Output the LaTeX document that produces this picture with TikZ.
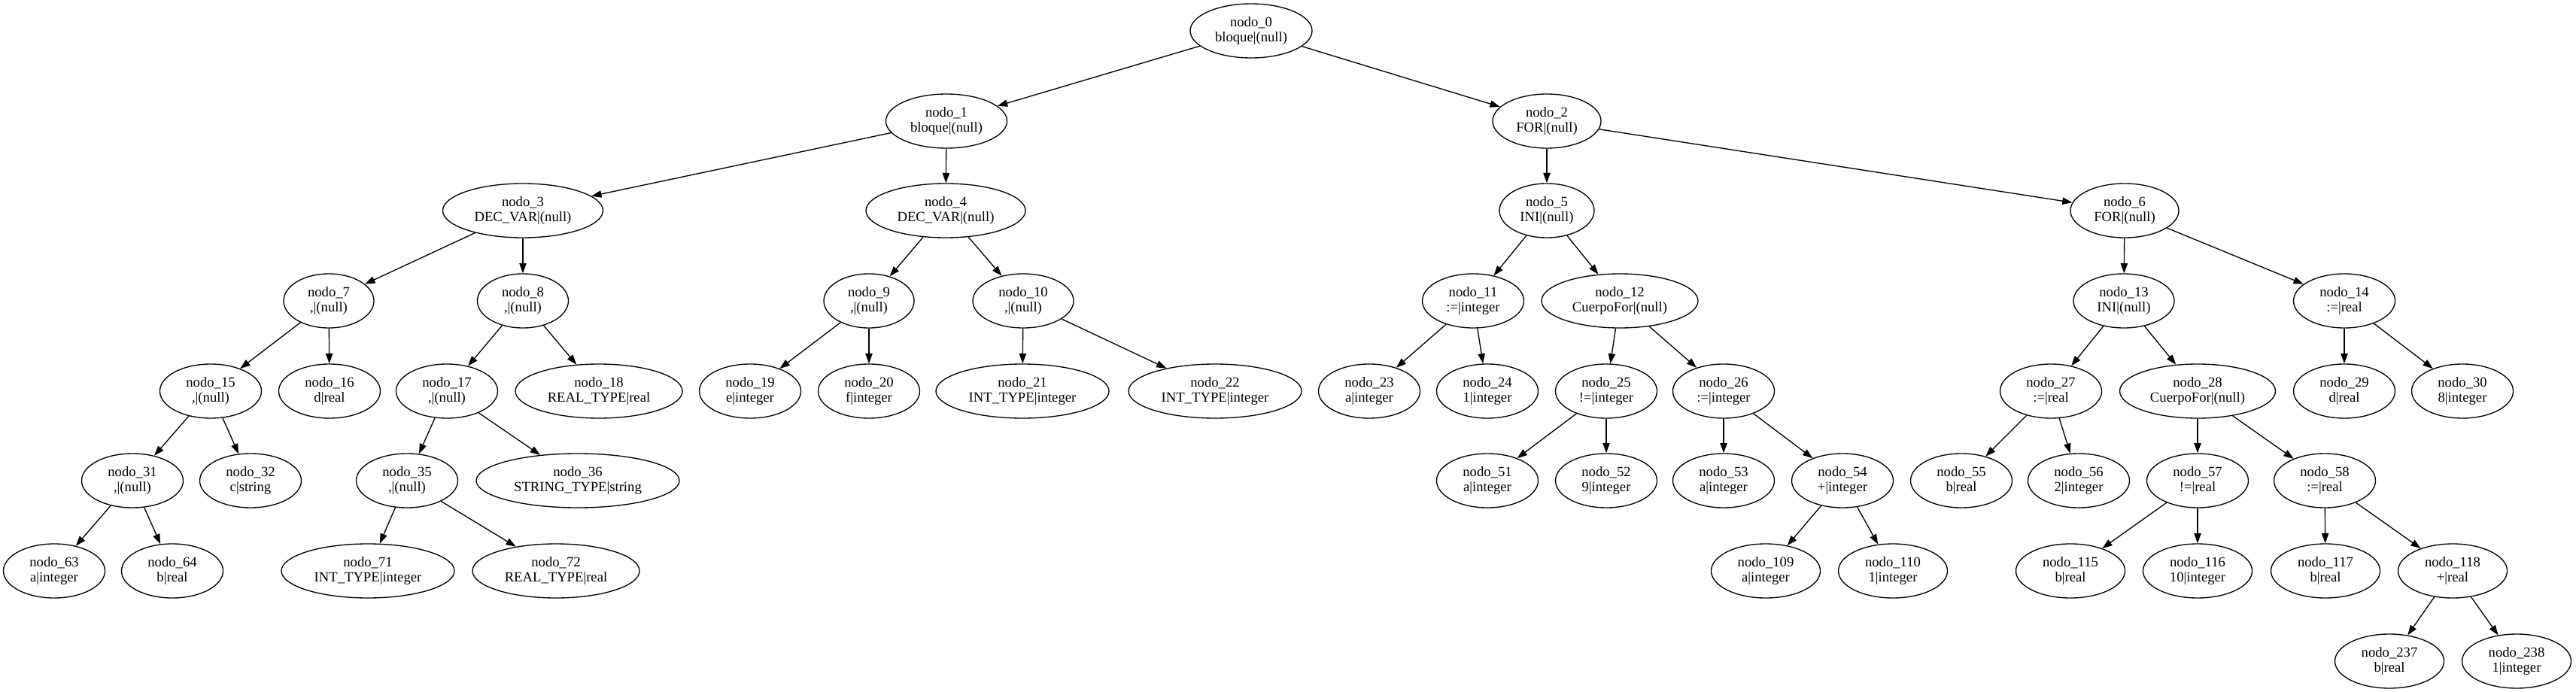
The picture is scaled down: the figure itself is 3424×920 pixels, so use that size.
\documentclass[tikz,border=0pt]{standalone}
\usepackage{fontspec}
\setmainfont{Liberation Serif}
\usepackage{tikz}
\usetikzlibrary{arrows.meta,shapes.geometric}

\begin{document}
\begin{tikzpicture}[x=0.75pt,y=-0.75pt,
    nodo/.style={draw, ellipse, line width=1pt, inner sep=0pt,
        minimum height=54pt, minimum width=101.25pt, align=center,
        font=\fontsize{14}{15}\selectfont},
    ancho/.style={minimum width=#1*0.75pt},
    flecha/.style={line width=1pt, -{Triangle[length=10pt,width=7pt]}}]
                  \useasboundingbox (0,0) rectangle (3424,920);
                  \node[nodo,ancho=162] (n0) at (1663,41) {nodo\_0\\bloque|(null)};
                  \node[nodo,ancho=161] (n1) at (1258,161) {nodo\_1\\bloque|(null)};
                  \node[nodo,ancho=144] (n2) at (2056,161) {nodo\_2\\FOR|(null)};
                  \node[nodo,ancho=213] (n3) at (695,280) {nodo\_3\\DEC\_VAR|(null)};
                  \node[nodo,ancho=212] (n4) at (1257,280) {nodo\_4\\DEC\_VAR|(null)};
                  \node[nodo,ancho=126] (n5) at (2056,280) {nodo\_5\\INI|(null)};
                  \node[nodo,ancho=144] (n6) at (2824,280) {nodo\_6\\FOR|(null)};
                  \node[nodo,ancho=120] (n7) at (437,400) {nodo\_7\\,|(null)};
                  \node[nodo,ancho=121] (n8) at (695,400) {nodo\_8\\,|(null)};
                  \node[nodo,ancho=120] (n9) at (1155,400) {nodo\_9\\,|(null)};
                  \node[nodo,ancho=134] (n10) at (1360,400) {nodo\_10\\,|(null)};
                  \node[nodo] (n11) at (1958,400) {nodo\_11\\:=|integer};
                  \node[nodo,ancho=208] (n12) at (2153,400) {nodo\_12\\CuerpoFor|(null)};
                  \node[nodo,ancho=134] (n13) at (2823,400) {nodo\_13\\INI|(null)};
                  \node[nodo] (n14) at (3116,400) {nodo\_14\\:=|real};
                  \node[nodo] (n15) at (280,520) {nodo\_15\\,|(null)};
                  \node[nodo] (n16) at (438,520) {nodo\_16\\d|real};
                  \node[nodo] (n17) at (594,520) {nodo\_17\\,|(null)};
                  \node[nodo,ancho=222] (n18) at (796,520) {nodo\_18\\REAL\_TYPE|real};
                  \node[nodo] (n19) at (997,520) {nodo\_19\\e|integer};
                  \node[nodo] (n20) at (1155,520) {nodo\_20\\f|integer};
                  \node[nodo,ancho=230] (n21) at (1359,520) {nodo\_21\\INT\_TYPE|integer};
                  \node[nodo,ancho=230] (n22) at (1615,520) {nodo\_22\\INT\_TYPE|integer};
                  \node[nodo] (n23) at (1820,520) {nodo\_23\\a|integer};
                  \node[nodo] (n24) at (1977,520) {nodo\_24\\1|integer};
                  \node[nodo] (n25) at (2135,520) {nodo\_25\\!=|integer};
                  \node[nodo] (n26) at (2291,520) {nodo\_26\\:=|integer};
                  \node[nodo] (n27) at (2726,520) {nodo\_27\\:=|real};
                  \node[nodo,ancho=207] (n28) at (2921,520) {nodo\_28\\CuerpoFor|(null)};
                  \node[nodo] (n29) at (3116,520) {nodo\_29\\d|real};
                  \node[nodo] (n30) at (3273,520) {nodo\_30\\8|integer};
                  \node[nodo] (n31) at (176,639) {nodo\_31\\,|(null)};
                  \node[nodo] (n32) at (333,639) {nodo\_32\\c|string};
                  \node[nodo] (n35) at (541,639) {nodo\_35\\,|(null)};
                  \node[nodo,ancho=270] (n36) at (768,639) {nodo\_36\\STRING\_TYPE|string};
                  \node[nodo] (n51) at (1977,639) {nodo\_51\\a|integer};
                  \node[nodo] (n52) at (2135,639) {nodo\_52\\9|integer};
                  \node[nodo] (n53) at (2291,639) {nodo\_53\\a|integer};
                  \node[nodo] (n54) at (2449,639) {nodo\_54\\+|integer};
                  \node[nodo] (n55) at (2607,639) {nodo\_55\\b|real};
                  \node[nodo] (n56) at (2763,639) {nodo\_56\\2|integer};
                  \node[nodo] (n57) at (2921,639) {nodo\_57\\!=|real};
                  \node[nodo] (n58) at (3090,639) {nodo\_58\\:=|real};
                  \node[nodo] (n63) at (72,759) {nodo\_63\\a|integer};
                  \node[nodo] (n64) at (229,759) {nodo\_64\\b|real};
                  \node[nodo,ancho=230] (n71) at (489,759) {nodo\_71\\INT\_TYPE|integer};
                  \node[nodo,ancho=222] (n72) at (739,759) {nodo\_72\\REAL\_TYPE|real};
                  \node[nodo,ancho=145] (n109) at (2347,759) {nodo\_109\\a|integer};
                  \node[nodo,ancho=145] (n110) at (2516,759) {nodo\_110\\1|integer};
                  \node[nodo,ancho=145] (n115) at (2752,759) {nodo\_115\\b|real};
                  \node[nodo,ancho=145] (n116) at (2921,759) {nodo\_116\\10|integer};
                  \node[nodo,ancho=145] (n117) at (3091,759) {nodo\_117\\b|real};
                  \node[nodo,ancho=145] (n118) at (3260,759) {nodo\_118\\+|real};
                  \node[nodo,ancho=145] (n237) at (3176,879) {nodo\_237\\b|real};
                  \node[nodo,ancho=145] (n238) at (3345,879) {nodo\_238\\1|integer};
                  \draw[flecha] (n0) -- (n1);
                  \draw[flecha] (n0) -- (n2);
                  \draw[flecha] (n1) -- (n3);
                  \draw[flecha] (n1) -- (n4);
                  \draw[flecha] (n2) -- (n5);
                  \draw[flecha] (n2) -- (n6);
                  \draw[flecha] (n3) -- (n7);
                  \draw[flecha] (n3) -- (n8);
                  \draw[flecha] (n4) -- (n9);
                  \draw[flecha] (n4) -- (n10);
                  \draw[flecha] (n5) -- (n11);
                  \draw[flecha] (n5) -- (n12);
                  \draw[flecha] (n6) -- (n13);
                  \draw[flecha] (n6) -- (n14);
                  \draw[flecha] (n7) -- (n15);
                  \draw[flecha] (n7) -- (n16);
                  \draw[flecha] (n8) -- (n17);
                  \draw[flecha] (n8) -- (n18);
                  \draw[flecha] (n9) -- (n19);
                  \draw[flecha] (n9) -- (n20);
                  \draw[flecha] (n10) -- (n21);
                  \draw[flecha] (n10) -- (n22);
                  \draw[flecha] (n11) -- (n23);
                  \draw[flecha] (n11) -- (n24);
                  \draw[flecha] (n12) -- (n25);
                  \draw[flecha] (n12) -- (n26);
                  \draw[flecha] (n13) -- (n27);
                  \draw[flecha] (n13) -- (n28);
                  \draw[flecha] (n14) -- (n29);
                  \draw[flecha] (n14) -- (n30);
                  \draw[flecha] (n15) -- (n31);
                  \draw[flecha] (n15) -- (n32);
                  \draw[flecha] (n17) -- (n35);
                  \draw[flecha] (n17) -- (n36);
                  \draw[flecha] (n25) -- (n51);
                  \draw[flecha] (n25) -- (n52);
                  \draw[flecha] (n26) -- (n53);
                  \draw[flecha] (n26) -- (n54);
                  \draw[flecha] (n27) -- (n55);
                  \draw[flecha] (n27) -- (n56);
                  \draw[flecha] (n28) -- (n57);
                  \draw[flecha] (n28) -- (n58);
                  \draw[flecha] (n31) -- (n63);
                  \draw[flecha] (n31) -- (n64);
                  \draw[flecha] (n35) -- (n71);
                  \draw[flecha] (n35) -- (n72);
                  \draw[flecha] (n54) -- (n109);
                  \draw[flecha] (n54) -- (n110);
                  \draw[flecha] (n57) -- (n115);
                  \draw[flecha] (n57) -- (n116);
                  \draw[flecha] (n58) -- (n117);
                  \draw[flecha] (n58) -- (n118);
                  \draw[flecha] (n118) -- (n237);
                  \draw[flecha] (n118) -- (n238);
              \end{tikzpicture}
\end{document}
